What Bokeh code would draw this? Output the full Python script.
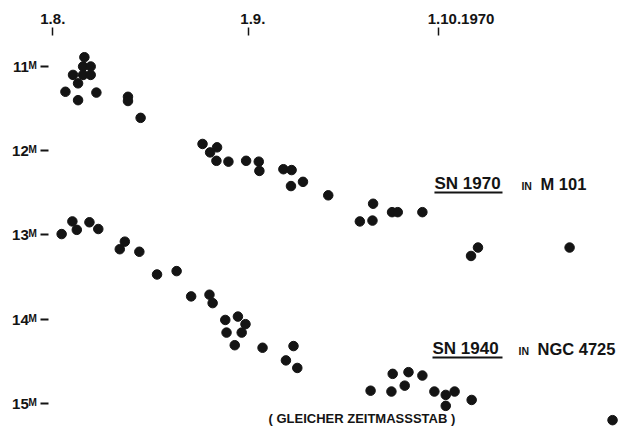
from bokeh.plotting import figure
from bokeh.models import Range1d, LinearAxis, FixedTicker, Label
from bokeh.embed import file_html
from bokeh.resources import INLINE

# x: days counted from 1 August 1970 ; y: apparent magnitude
tick_days = [0, 31, 61]
tick_labels = ["1.8.", "1.9.", "1.10.1970"]
mag_ticks = [11, 12, 13, 14, 15]
mag_labels = ["11ᴹ", "12ᴹ", "13ᴹ", "14ᴹ", "15ᴹ"]

sn1970_day = [5.0, 4.8, 6.0, 4.8, 6.0, 3.2, 4.0, 2.0, 6.9, 4.0, 11.9, 11.9, 13.9,
              23.7, 26.0, 24.9, 25.9, 27.8, 30.6, 32.6, 32.7, 36.5, 37.8, 37.7,
              39.6, 43.6, 50.7, 48.6, 50.6, 53.7, 54.6, 58.5, 67.3, 66.2, 81.8]
sn1970_mag = [10.89, 11.00, 11.00, 11.10, 11.10, 11.10, 11.20, 11.30, 11.31, 11.40,
              11.36, 11.41, 11.61, 11.92, 11.96, 12.02, 12.12, 12.13, 12.12, 12.13,
              12.24, 12.22, 12.23, 12.42, 12.37, 12.53, 12.63, 12.84, 12.83, 12.73,
              12.73, 12.73, 13.15, 13.25, 13.15]

sn1940_day = [1.4, 3.1, 3.8, 5.8, 7.2, 11.4, 10.6, 13.7, 16.5, 19.6, 21.9, 24.8,
              25.3, 27.3, 29.3, 30.5, 27.5, 29.9, 28.8, 33.2, 38.1, 36.9, 38.7,
              50.3, 53.6, 53.8, 56.3, 55.7, 58.5, 60.4, 62.2, 63.6, 62.2, 66.3, 88.6]
sn1940_mag = [12.99, 12.84, 12.94, 12.85, 12.93, 13.08, 13.17, 13.20, 13.47, 13.43,
              13.73, 13.71, 13.81, 14.01, 13.97, 14.06, 14.16, 14.16, 14.31, 14.34,
              14.32, 14.49, 14.58, 14.85, 14.86, 14.65, 14.63, 14.79, 14.67, 14.86,
              14.90, 14.86, 15.03, 14.96, 15.20]

FONT = "Liberation Sans"
INK = "#141414"

p = figure(width=619, height=428, output_backend="svg", toolbar_location=None,
           x_range=Range1d(-0.68, 89.70), y_range=Range1d(15.299, 10.632),
           x_axis_location=None, y_axis_location=None,
           min_border_left=48, min_border_top=35, min_border_right=0, min_border_bottom=0)
p.outline_line_color = None
p.background_fill_color = "white"
p.border_fill_color = "white"
p.xgrid.visible = False
p.ygrid.visible = False

# label padding (non-breaking spaces) to place label text relative to its tick like the original
pad = {0: 0, 31: 2, 61: 11}
top = LinearAxis(ticker=FixedTicker(ticks=tick_days, minor_ticks=[]),
                 major_label_overrides={d: "\u00a0" * pad[d] + t for d, t in zip(tick_days, tick_labels)})
top.axis_line_color = None
top.major_tick_out = 8
top.major_tick_in = 0
top.major_tick_line_width = 1.5
top.major_tick_line_color = INK
top.major_label_standoff = 1
top.major_label_text_font = FONT
top.major_label_text_font_style = "bold"
top.major_label_text_font_size = "15px"
top.major_label_text_color = INK
p.add_layout(top, "above")

left = LinearAxis(ticker=FixedTicker(ticks=mag_ticks, minor_ticks=[]),
                  major_label_overrides={m: t for m, t in zip(mag_ticks, mag_labels)})
left.axis_line_color = None
left.major_tick_out = 8
left.major_tick_in = 0
left.major_tick_line_width = 2
left.major_tick_line_color = INK
left.major_label_standoff = 4
left.major_label_text_font = FONT
left.major_label_text_font_style = "bold"
left.major_label_text_font_size = "15px"
left.major_label_text_color = INK
p.add_layout(left, "left")

p.scatter(sn1970_day, sn1970_mag, size=9.5, color=INK)
p.scatter(sn1940_day, sn1940_mag, size=9.5, color=INK)

def lab(x, y, text, size, style="bold"):
    p.add_layout(Label(x=x, y=y, text=text, text_font=FONT, text_font_size=size,
                       text_font_style=style, text_color=INK,
                       text_align="left", text_baseline="middle"))

# SN 1970 in M 101
lab(60.41, 12.388, "SN 1970", "17px")
lab(74.18, 12.415, "IN", "10.5px")
lab(77.19, 12.391, "M 101", "16.5px")
# SN 1940 in NGC 4725
lab(60.10, 14.347, "SN 1940", "17px")
lab(73.71, 14.375, "IN", "10.5px")
lab(76.72, 14.350, "NGC 4725", "16.5px")
# same time scale note
lab(34.14, 15.185, "( GLEICHER  ZEITMASSSTAB )", "13px")

# underlines
p.segment(x0=[60.41, 60.10], y0=[12.496, 14.456], x1=[71.18, 71.18], y1=[12.496, 14.456],
          line_color=INK, line_width=2)

open("out.html", "w").write(file_html(p, INLINE))
